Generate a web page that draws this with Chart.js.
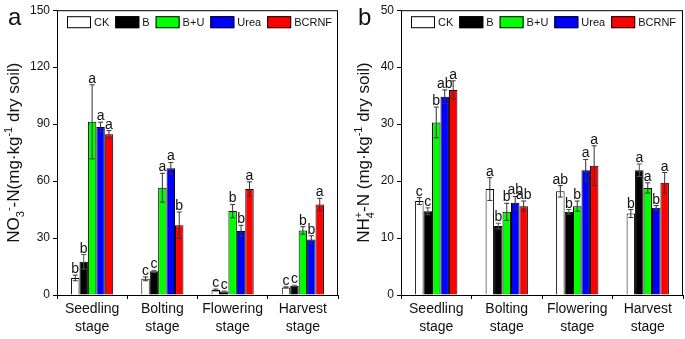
<!DOCTYPE html>
<html>
<head>
<meta charset="utf-8">
<script src="https://cdn.jsdelivr.net/npm/chart.js@4.4.1/dist/chart.umd.min.js"></script>
<style>
  body { margin: 0; background: #fff; }
  #wrap { position: relative; width: 685px; height: 339px; }
  canvas { position: absolute; top: 0; }
  #chartA { left: 0; }
  #chartB { left: 340px; }
</style>
</head>
<body>
<div id="wrap">
  <canvas id="chartA" width="340" height="339"></canvas>
  <canvas id="chartB" width="345" height="339"></canvas>
</div>
<script>
// ===== Data =====
const stages = [["Seedling", "stage"], ["Bolting", "stage"], ["Flowering", "stage"], ["Harvest", "stage"]];
const treatments = ["CK", "B", "B+U", "Urea", "BCRNF"];
const fillColors = ["#ffffff", "#000000", "#00ff00", "#0000ff", "#ff0000"];

// NO3- -N, one row per treatment, one column per stage
const no3Means = [
  [9.0, 8.5, 2.6, 4.0],
  [17.5, 12.5, 1.8, 4.8],
  [91.2, 56.5, 44.2, 34.0],
  [88.5, 66.8, 33.7, 29.2],
  [84.6, 36.7, 55.8, 47.7]
];
const no3Errors = [
  [1.5, 1.0, 0.5, 0.3],
  [3.8, 0.5, 0.3, 0.3],
  [19.5, 7.6, 3.5, 2.0],
  [2.5, 3.0, 3.0, 2.0],
  [2.0, 7.0, 3.8, 3.2]
];
const no3Letters = [
  ["b", "c", "c", "c"],
  ["b", "c", "c", "c"],
  ["a", "a", "b", "b"],
  ["a", "a", "b", "b"],
  ["a", "b", "a", "a"]
];
const no3Ticks = { min: 0, max: 150, step: 30 };

// NH4+ -N
const nh4Means = [
  [16.5, 18.6, 18.2, 14.3],
  [14.7, 12.1, 14.6, 21.9],
  [30.3, 14.6, 15.6, 18.8],
  [34.8, 16.2, 21.9, 15.3],
  [36.0, 15.6, 22.7, 19.7]
];
const nh4Errors = [
  [0.6, 2.0, 1.0, 0.7],
  [0.6, 0.5, 0.4, 1.1],
  [2.7, 1.5, 0.9, 0.9],
  [1.2, 1.1, 1.9, 0.4],
  [1.6, 0.9, 3.5, 1.8]
];
const nh4Letters = [
  ["c", "a", "ab", "b"],
  ["c", "b", "b", "a"],
  ["b", "b", "b", "a"],
  ["ab", "ab", "a", "b"],
  ["a", "ab", "a", "a"]
];
const nh4Ticks = { min: 0, max: 50, step: 10 };

const FONT = "'Liberation Sans', Arial, sans-serif";
const INK = "#111";

// draws "NO3- -N(...)" style text rotated along the y axis
function drawRichTitle(ctx, segs, cx, cy, size) {
  ctx.save();
  ctx.translate(cx, cy);
  ctx.rotate(-Math.PI / 2);
  ctx.fillStyle = INK;
  ctx.textBaseline = "alphabetic";
  ctx.textAlign = "left";
  const fontFor = k => (k === "n" ? size : Math.round(size * 0.62)) + "px " + FONT;
  // measure
  let total = 0, lastW = 0;
  const placed = [];
  segs.forEach(s => {
    ctx.font = fontFor(s.k);
    const w = ctx.measureText(s.t).width;
    if (s.stack) {
      const x = total - lastW;
      placed.push({ s, x });
      total = x + Math.max(lastW, w);
      lastW = Math.max(lastW, w);
    } else {
      placed.push({ s, x: total });
      total += w;
      lastW = w;
    }
  });
  const x0 = -total / 2;
  const base = size * 0.36;
  placed.forEach(p => {
    ctx.font = fontFor(p.s.k);
    let dy = 0;
    if (p.s.k === "sub") dy = size * 0.28;
    if (p.s.k === "sup") dy = -size * 0.42;
    ctx.fillText(p.s.t, x0 + p.x, base + dy);
  });
  ctx.restore();
}

const extrasPlugin = {
  id: "extras",
  afterDatasetsDraw(chart, args, opts) {
    const ctx = chart.ctx;
    const area = chart.chartArea;
    const y = chart.scales.y;

    // error bars + significance letters
    chart.data.datasets.forEach((ds, i) => {
      const meta = chart.getDatasetMeta(i);
      meta.data.forEach((bar, j) => {
        const v = ds.data[j];
        const e = opts.errors[i][j];
        const top = y.getPixelForValue(v + e);
        const bot = y.getPixelForValue(Math.max(0, v - e));
        ctx.save();
        ctx.strokeStyle = i === 1 ? "#555" : "#333";
        ctx.lineWidth = 1;
        ctx.beginPath();
        ctx.moveTo(bar.x, top); ctx.lineTo(bar.x, bot);
        ctx.moveTo(bar.x - 2.5, top); ctx.lineTo(bar.x + 2.5, top);
        ctx.moveTo(bar.x - 2.5, bot); ctx.lineTo(bar.x + 2.5, bot);
        ctx.stroke();
        ctx.fillStyle = INK;
        ctx.font = "14px " + FONT;
        ctx.textAlign = "center";
        ctx.textBaseline = "alphabetic";
        ctx.fillText(opts.letters[i][j], bar.x, top - 2);
        ctx.restore();
      });
    });

    // frame
    ctx.save();
    ctx.strokeStyle = "#000";
    ctx.lineWidth = 1;
    ctx.strokeRect(area.left + 0.5, area.top + 0.5, area.right - area.left - 1, area.bottom - area.top);
    ctx.restore();

    // legend inside plot
    ctx.save();
    ctx.font = "11px " + FONT;
    ctx.textBaseline = "middle";
    ctx.textAlign = "left";
    let lx = area.left + 10;
    const ly = area.top + 6;
    chart.data.datasets.forEach(ds => {
      ctx.fillStyle = ds.backgroundColor;
      ctx.fillRect(lx, ly, 24, 12);
      ctx.strokeStyle = "#000";
      ctx.strokeRect(lx + 0.5, ly + 0.5, 23, 11);
      ctx.fillStyle = INK;
      ctx.fillText(ds.label, lx + 27, ly + 6.5);
      lx += 27 + ctx.measureText(ds.label).width + 6;
    });
    ctx.restore();

    // y title and panel letter
    drawRichTitle(ctx, opts.title, opts.titleX, (area.top + area.bottom) / 2, 17);
    ctx.save();
    ctx.fillStyle = INK;
    ctx.font = "24px " + FONT;
    ctx.textAlign = "left";
    ctx.textBaseline = "alphabetic";
    ctx.fillText(opts.panel, opts.panelX, 25);
    ctx.restore();
  }
};

function makeChart(canvasId, means, errors, letters, ticks, yWidth, title, titleX, panel, panelX) {
  const datasets = treatments.map((name, i) => ({
    label: name,
    data: means[i],
    backgroundColor: fillColors[i],
    borderColor: "#000",
    borderWidth: 1,
    categoryPercentage: 0.6,
    barPercentage: 1.0
  }));

  return new Chart(document.getElementById(canvasId), {
    type: "bar",
    data: { labels: stages, datasets },
    plugins: [extrasPlugin],
    options: {
      responsive: false,
      devicePixelRatio: 1,
      animation: false,
      layout: { padding: { top: 9, right: 2, left: 0, bottom: 0 } },
      plugins: {
        legend: { display: false },
        tooltip: { enabled: false },
        extras: { errors, letters, title, titleX, panel, panelX }
      },
      scales: {
        x: {
          grid: { display: true, drawOnChartArea: false, tickLength: 4, color: "#000" },
          border: { display: true, color: "#000" },
          ticks: { color: INK, font: { family: FONT, size: 14, lineHeight: 1.3 }, padding: 1, maxRotation: 0 },
          afterFit(scale) { scale.height = 44; }
        },
        y: {
          min: ticks.min,
          max: ticks.max,
          grid: { display: true, drawOnChartArea: false, tickLength: 4, color: "#000" },
          border: { display: true, color: "#000" },
          ticks: { stepSize: ticks.step, color: INK, font: { family: FONT, size: 12 }, padding: 3 },
          afterFit(scale) { scale.width = yWidth; }
        }
      }
    }
  });
}

const no3Title = [
  { t: "NO", k: "n" }, { t: "3", k: "sub" }, { t: "-", k: "sup" },
  { t: "-N(mg\u00b7kg", k: "n" }, { t: "-1", k: "sup" }, { t: " dry soil)", k: "n" }
];
const nh4Title = [
  { t: "NH", k: "n" }, { t: "4", k: "sub" }, { t: "+", k: "sup", stack: true },
  { t: "-N (mg\u00b7kg", k: "n" }, { t: "-1", k: "sup" }, { t: " dry soil)", k: "n" }
];

makeChart("chartA", no3Means, no3Errors, no3Letters, no3Ticks, 57, no3Title, 13, "a", 8);
makeChart("chartB", nh4Means, nh4Errors, nh4Letters, nh4Ticks, 61, nh4Title, 23, "b", 18);
</script>
</body>
</html>
